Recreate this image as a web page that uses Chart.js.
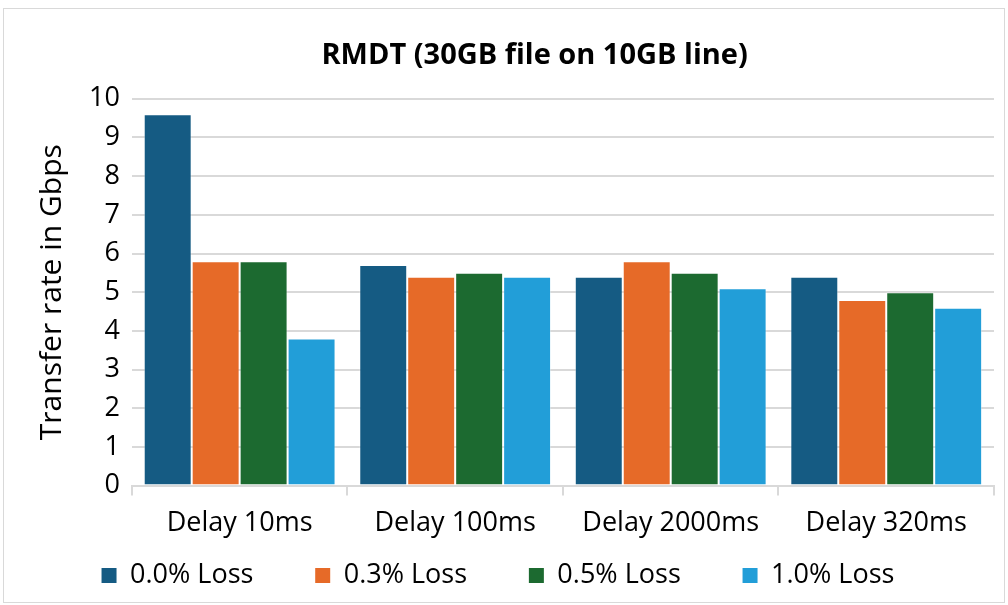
<!DOCTYPE html>
<html>
<head>
<meta charset="utf-8">
<script src="https://cdn.jsdelivr.net/npm/chart.js@4/dist/chart.umd.min.js"></script>
<style>
  html, body { margin: 0; padding: 0; background: #fff; }
  #wrap {
    position: absolute; left: 3px; top: 8px;
    width: 1002px; height: 595px;
    border: 1px solid #d9d9d9; box-sizing: border-box;
  }
</style>
</head>
<body>
<div id="wrap"><canvas id="chart"></canvas></div>
<script>
const categories = ['Delay 10ms', 'Delay 100ms', 'Delay 2000ms', 'Delay 320ms'];
const loss00 = [9.6, 5.7, 5.4, 5.4];
const loss03 = [5.8, 5.4, 5.8, 4.8];
const loss05 = [5.8, 5.5, 5.5, 5.0];
const loss10 = [3.8, 5.4, 5.1, 4.6];
const seriesNames = ['0.0% Loss', '0.3% Loss', '0.5% Loss', '1.0% Loss'];
const colors = ['#155b83', '#e66a28', '#1c6a30', '#229ed8'];
const yTicks = [0, 1, 2, 3, 4, 5, 6, 7, 8, 9, 10];

const fontFam = "'Open Sans', 'Noto Sans', sans-serif";
// trailing spaces spread the legend items out like the original
const legendGap = '       \u200A';
const legendTail = '    ';

const ctx = document.getElementById('chart').getContext('2d');
const seriesData = [loss00, loss03, loss05, loss10];

new Chart(ctx, {
    type: 'bar',
    data: {
        labels: categories,
        datasets: seriesData.map((d, i) => ({
            label: seriesNames[i],
            data: d,
            backgroundColor: colors[i],
            borderColor: 'rgba(255,255,255,0.35)',
            borderWidth: 1,
            barPercentage: 1,
            categoryPercentage: 0.89
        }))
    },
    options: {
        responsive: true,
        maintainAspectRatio: false,
        animation: false,
        layout: {
            padding: { top: 10, right: 10, bottom: 3, left: 26 }
        },
        plugins: {
            title: {
                display: true,
                // leading spaces nudge the title right, as in the original
                text: '      RMDT (30GB file on 10GB line)',
                color: '#000',
                font: { size: 29, weight: 'bold', family: fontFam },
                padding: { top: 19, bottom: 26 }
            },
            legend: {
                position: 'bottom',
                labels: {
                    color: '#000',
                    font: { size: 27, family: fontFam },
                    boxWidth: 15,
                    boxHeight: 15,
                    padding: 10,
                    generateLabels: chart => {
                        const items = Chart.defaults.plugins.legend.labels.generateLabels(chart);
                        items.forEach((it, i) => {
                            it.text = it.text + (i < items.length - 1 ? legendGap : legendTail);
                            it.lineWidth = 0;
                        });
                        return items;
                    }
                }
            },
            tooltip: { enabled: false }
        },
        scales: {
            x: {
                grid: {
                    display: true,
                    drawOnChartArea: false,
                    offset: true,
                    color: '#d9d9d9',
                    lineWidth: 2,
                    tickLength: 10
                },
                border: { display: true, color: '#d9d9d9', width: 2 },
                ticks: {
                    color: '#000',
                    font: { size: 27, family: fontFam },
                    padding: 12
                }
            },
            y: {
                min: 0,
                max: 10,
                afterBuildTicks: axis => { axis.ticks = yTicks.map(v => ({ value: v })); },
                grid: {
                    color: '#d9d9d9',
                    lineWidth: 2,
                    drawTicks: false
                },
                border: { display: false },
                ticks: {
                    color: '#000',
                    font: { size: 27, family: fontFam },
                    padding: 12
                },
                title: {
                    display: true,
                    text: 'Transfer rate in Gbps',
                    color: '#000',
                    font: { size: 30, family: fontFam },
                    padding: { top: 4, bottom: 7 }
                }
            }
        }
    }
});
</script>
</body>
</html>
